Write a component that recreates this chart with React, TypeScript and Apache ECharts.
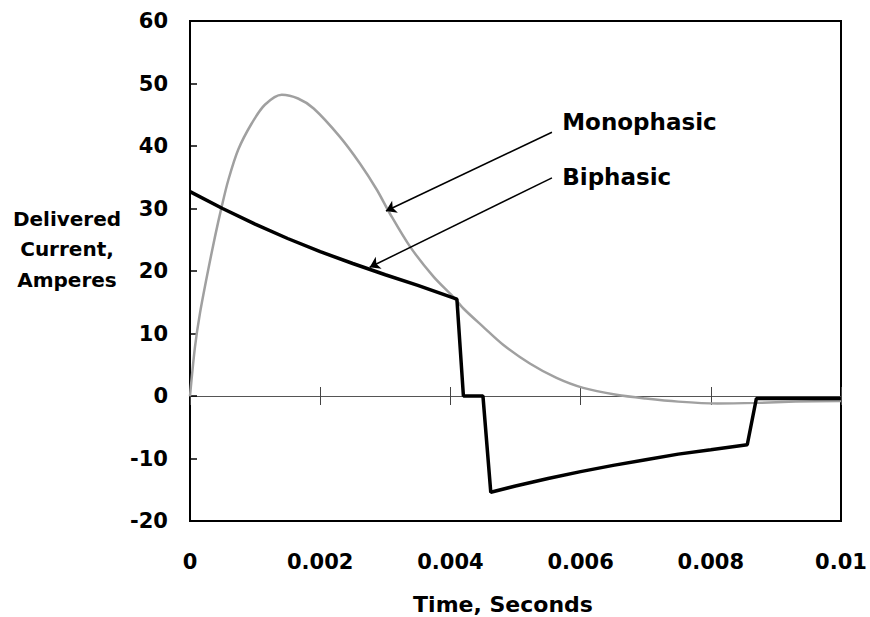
import React, { useEffect, useRef } from 'react';
import * as echarts from 'echarts';

// Monophasic waveform (gray)
const monoTime = [0, 0.000077, 0.000154, 0.00028, 0.000384, 0.000487, 0.00059, 0.00074, 0.000947, 0.00115, 0.00141, 0.00166, 0.0019, 0.0023, 0.00261, 0.00287, 0.00307, 0.00338, 0.00374, 0.00404, 0.0042, 0.0045, 0.00481, 0.00522, 0.00563, 0.00604, 0.00655, 0.007, 0.0075, 0.0081, 0.0087, 0.0093, 0.01];
const monoCurrent = [0, 7.9, 13.3, 20.2, 25.5, 30.3, 34.6, 39.4, 43.6, 46.6, 48.2, 47.6, 46.0, 41.5, 37.2, 33.0, 29.2, 23.9, 19.1, 15.9, 14.0, 11.1, 8.2, 5.2, 2.9, 1.3, 0.2, -0.4, -0.9, -1.2, -1.1, -0.9, -0.8];

// Biphasic waveform (black)
const biTime = [0, 0.0005, 0.001, 0.0015, 0.002, 0.0025, 0.003, 0.0035, 0.0041, 0.0042, 0.0045, 0.00462, 0.005, 0.0055, 0.006, 0.0065, 0.007, 0.0075, 0.008, 0.00856, 0.0087, 0.01];
const biCurrent = [32.7, 30.0, 27.5, 25.2, 23.1, 21.2, 19.4, 17.7, 15.5, 0, 0, -15.4, -14.4, -13.2, -12.1, -11.1, -10.2, -9.3, -8.6, -7.8, -0.4, -0.4];

// Annotations (data coordinates)
const labelNames = ['Monophasic', 'Biphasic'];
const labelX = [0.00571, 0.00571];
const labelY = [43.8, 35.0];
const arrowStartX = [0.00556, 0.00556];
const arrowStartY = [42.2, 34.9];
const arrowEndX = [0.00301, 0.00276];
const arrowEndY = [29.6, 20.6];

const yTitle = ['Delivered', 'Current,', 'Amperes'];
const xTitle = 'Time, Seconds';

export default function App() {
  const ref = useRef<HTMLDivElement>(null);

  useEffect(() => {
    const chart = echarts.init(ref.current!, null, { renderer: 'svg' });
    const font = "'DejaVu Sans', 'Liberation Sans', sans-serif";
    const mono = monoTime.map((t, i) => [t, monoCurrent[i]]);
    const bi = biTime.map((t, i) => [t, biCurrent[i]]);

    const baseX = { type: 'value', min: 0, max: 0.01, interval: 0.002, splitLine: { show: false } };

    chart.setOption({
      animation: false,
      backgroundColor: '#ffffff',
      grid: {
        left: 190, right: 29, top: 21, bottom: 96,
        show: true, borderColor: '#000', borderWidth: 2, backgroundColor: 'transparent',
      },
      xAxis: [
        {
          ...baseX, position: 'bottom',
          axisLine: { show: true, onZero: false, lineStyle: { color: '#000', width: 2 } },
          axisTick: { show: false },
          axisLabel: { margin: 30, fontFamily: font, fontWeight: 'bold', fontSize: 21, color: '#000' },
        },
        {
          ...baseX, position: 'bottom',
          axisLine: { show: true, onZero: true, onZeroAxisIndex: 0, lineStyle: { color: '#555', width: 1 } },
          axisTick: { show: true, inside: true, length: 9, lineStyle: { color: '#444', width: 1 } },
          axisLabel: { show: false },
        },
        {
          ...baseX, position: 'bottom',
          axisLine: { show: true, onZero: true, onZeroAxisIndex: 0, lineStyle: { color: '#555', width: 1 } },
          axisTick: { show: true, inside: false, length: 9, lineStyle: { color: '#444', width: 1 } },
          axisLabel: { show: false },
        },
      ],
      yAxis: {
        type: 'value', min: -20, max: 60, interval: 10,
        axisLine: { show: true, lineStyle: { color: '#000', width: 2 } },
        axisTick: { show: true, inside: true, length: 7, lineStyle: { color: '#000', width: 1.5 } },
        axisLabel: { margin: 22, fontFamily: font, fontWeight: 'bold', fontSize: 21, color: '#000' },
        splitLine: { show: false },
      },
      graphic: [
        {
          type: 'text', x: 67, y: 249,
          style: {
            text: yTitle.join('\n'), align: 'center', verticalAlign: 'middle', lineHeight: 30.5,
            fontFamily: font, fontWeight: 'bold', fontSize: 20, fill: '#000',
          },
        },
        {
          type: 'text', x: 503, y: 604,
          style: {
            text: xTitle, align: 'center', verticalAlign: 'middle',
            fontFamily: font, fontWeight: 'bold', fontSize: 22, fill: '#000',
          },
        },
      ],
      series: [
        {
          name: 'Monophasic', type: 'line', data: mono, xAxisIndex: 0, yAxisIndex: 0,
          showSymbol: false, smooth: 0.3,
          lineStyle: { color: '#a0a0a0', width: 2.5 },
          z: 2,
        },
        {
          name: 'Biphasic', type: 'line', data: bi, xAxisIndex: 0, yAxisIndex: 0,
          showSymbol: false,
          lineStyle: { color: '#000', width: 3.5 },
          z: 3,
          markLine: {
            silent: true, symbol: ['none', 'arrow'], symbolSize: 10,
            lineStyle: { color: '#000', width: 1.5, type: 'solid' },
            label: { show: false },
            data: arrowStartX.map((sx, i) => [
              { coord: [sx, arrowStartY[i]] },
              { coord: [arrowEndX[i], arrowEndY[i]] },
            ]),
          },
          markPoint: {
            silent: true, symbol: 'circle', symbolSize: 1,
            itemStyle: { color: 'rgba(0,0,0,0)' },
            label: {
              show: true, position: 'right', distance: 0,
              fontFamily: font, fontWeight: 'bold', fontSize: 23, color: '#000',
              formatter: (p: any) => p.name,
            },
            data: labelNames.map((n, i) => ({ name: n, coord: [labelX[i], labelY[i]] })),
          },
        },
      ],
    });
    return () => chart.dispose();
  }, []);

  return (
    <div
      ref={ref}
      style={{ position: 'fixed', left: 0, top: 0, width: 870, height: 617, background: '#fff' }}
    />
  );
}
